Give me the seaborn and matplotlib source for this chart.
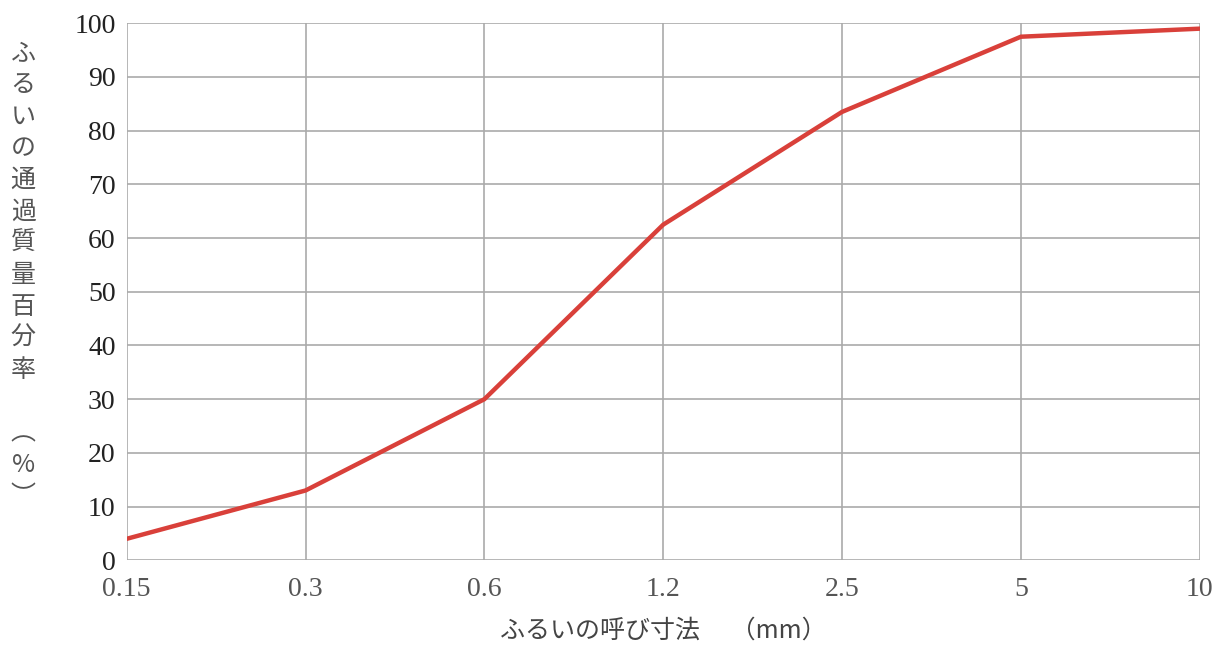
import pandas as pd
import numpy as np
import matplotlib
matplotlib.use('Agg')
import matplotlib.pyplot as plt
import seaborn as sns

sns.set_style('white')
plt.rcParams['font.family'] = ['Liberation Serif', 'Noto Sans CJK JP', 'DejaVu Sans']

# sieve sizes (mm) and percent passing
sieve_labels = ['0.15', '0.3', '0.6', '1.2', '2.5', '5', '10']
passing = [4, 13, 30, 62.5, 83.5, 97.5, 99]
y_ticks = list(range(0, 101, 10))

df = pd.DataFrame({'sieve': sieve_labels, 'passing': passing})
df['pos'] = np.arange(len(sieve_labels))

fig = plt.figure(figsize=(12.18, 6.47), dpi=100)
ax = fig.add_axes([0.104, 0.134, 0.881, 0.830])

sns.lineplot(x='pos', y='passing', data=df, ax=ax, color='#d9403a', linewidth=3.2)

ax.set_xlim(0, len(sieve_labels) - 1)
ax.set_ylim(0, 100)
ax.set_xticks(df['pos'])
ax.set_xticklabels(sieve_labels)
ax.set_yticks(y_ticks)
ax.tick_params(axis='x', labelsize=20, colors='#555555', length=0, pad=12)
ax.tick_params(axis='y', labelsize=20, colors='#222222', length=0, pad=8)
ax.grid(True, color='#aaaaaa', linewidth=1.2)
for s in ax.spines.values():
    s.set_visible(False)

ax.set_xlabel('ふるいの呼び寸法\u3000 （mm）', fontsize=18, color='#444444',
              family=['Noto Sans CJK JP'], labelpad=11)
ax.set_ylabel('')

ylab = '\n'.join('ふるいの通過質量百分率') + '\n\n︵\n%\n︶'
fig.text(0.019, 0.575, ylab, fontsize=18, color='#555555', ha='center', va='center',
         linespacing=1.28, family=['Noto Sans CJK JP', 'DejaVu Sans'])

fig.savefig('out.png', dpi=100)
